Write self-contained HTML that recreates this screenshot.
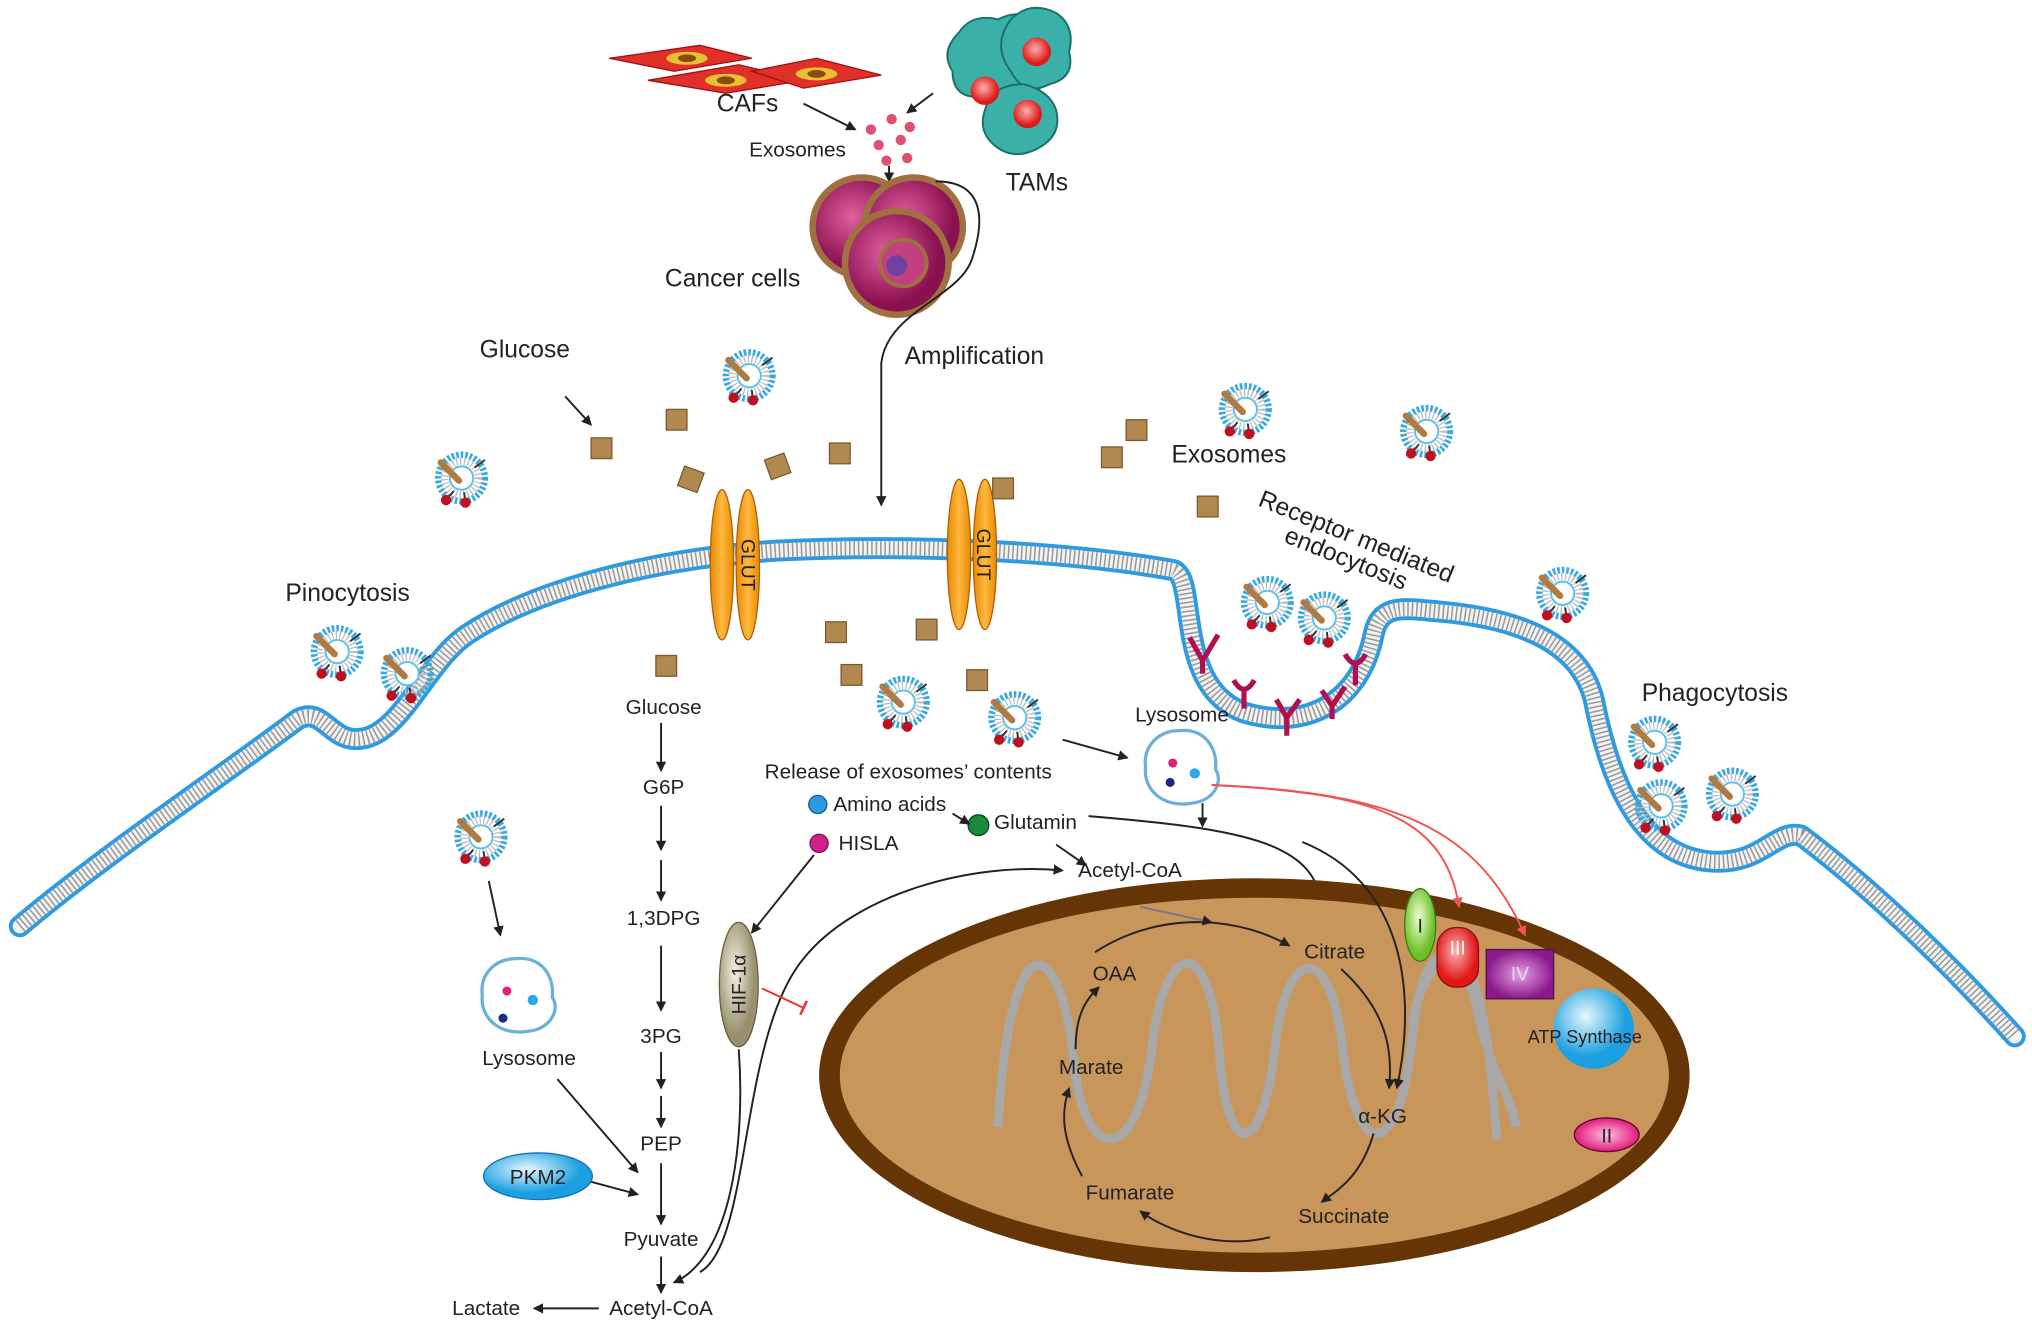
<!DOCTYPE html>
<html><head><meta charset="utf-8"><style>
html,body{margin:0;padding:0;background:#fff;}
svg{display:block;}
text{font-family:"Liberation Sans",sans-serif;fill:#222;}
</style></head><body>
<svg width="2032" height="1333" viewBox="0 0 1568 1029" xmlns="http://www.w3.org/2000/svg">
<defs>
<marker id="ar" markerWidth="8" markerHeight="8" refX="7" refY="4" orient="auto" markerUnits="userSpaceOnUse"><path d="M0,0 L8,4 L0,8z" fill="#222"/></marker>
<marker id="arr" markerWidth="8" markerHeight="8" refX="7" refY="4" orient="auto" markerUnits="userSpaceOnUse"><path d="M0,0 L8,4 L0,8z" fill="#e55"/></marker>
<marker id="tb" markerWidth="4" markerHeight="12" refX="2" refY="6" orient="auto" markerUnits="userSpaceOnUse"><path d="M2,0 L2,12" stroke="#e33" stroke-width="2"/></marker>
<radialGradient id="gb" cx="40%" cy="35%"><stop offset="0" stop-color="#e8f8ff"/><stop offset="1" stop-color="#1aa0e0"/></radialGradient>
<radialGradient id="gr" cx="45%" cy="40%"><stop offset="0" stop-color="#ffb0b0"/><stop offset="1" stop-color="#e01818"/></radialGradient>
<radialGradient id="gg" cx="45%" cy="40%"><stop offset="0" stop-color="#f0ffd0"/><stop offset="1" stop-color="#6cbf2a"/></radialGradient>
<radialGradient id="gp" cx="50%" cy="50%"><stop offset="0" stop-color="#e8a0e8"/><stop offset="1" stop-color="#8a1a8a"/></radialGradient>
<radialGradient id="gpk" cx="50%" cy="50%"><stop offset="0" stop-color="#ffc0e0"/><stop offset="1" stop-color="#e01a7a"/></radialGradient>
<radialGradient id="gc" cx="40%" cy="40%"><stop offset="0" stop-color="#e060a0"/><stop offset="1" stop-color="#8a1050"/></radialGradient>
<radialGradient id="gh" cx="40%" cy="40%"><stop offset="0" stop-color="#f5f0e0"/><stop offset="1" stop-color="#9a9070"/></radialGradient>
<linearGradient id="go" x1="0" x2="1"><stop offset="0" stop-color="#e88a00"/><stop offset=".5" stop-color="#ffb840"/><stop offset="1" stop-color="#e88a00"/></linearGradient>
<g id="ex">
<circle r="18" fill="none" stroke="#3aa8e0" stroke-width="5" stroke-dasharray="2 1.5"/>
<circle r="13" fill="none" stroke="#bbb" stroke-width="6" stroke-dasharray="1 2"/>
<circle r="9" fill="#fff" stroke="#5bc0ee" stroke-width="1.5"/>
<line x1="-16" y1="-12" x2="-2" y2="2" stroke="#b07a40" stroke-width="5" stroke-linecap="round"/>
<line x1="10" y1="-8" x2="18" y2="-14" stroke="#333" stroke-width="1.5"/>
<line x1="-6" y1="10" x2="-12" y2="17" stroke="#333" stroke-width="1.5"/>
<circle cx="-12" cy="17" r="4" fill="#c01020"/>
<line x1="2" y1="11" x2="3" y2="19" stroke="#333" stroke-width="1.5"/>
<circle cx="3" cy="19" r="4" fill="#c01020"/>
</g>
<g id="gl"><rect x="-8" y="-8" width="16" height="16" fill="#b08850" stroke="#7a5a30" stroke-width="1"/></g>
<g id="lys"><path d="M0,-28 C20,-30 30,-14 28,2 C34,10 28,26 10,28 C-12,32 -28,18 -26,0 C-28,-16 -16,-28 0,-28z" fill="#fff" stroke="#6ab0d8" stroke-width="2.5"/></g>
</defs>

<!-- membrane -->
<g fill="none" stroke-linejoin="round" stroke-linecap="round">
<path id="mem" d="M15,715 C80,660 170,600 230,555 C250,545 255,575 280,570 C310,565 330,510 360,490 C420,450 520,430 600,425 C700,420 820,425 905,440 C925,445 905,530 960,550 C1010,565 1050,540 1060,490 C1065,465 1085,470 1110,472 C1180,478 1220,500 1230,540 C1240,590 1260,660 1320,665 C1360,668 1370,640 1390,645 C1450,690 1510,750 1555,800"
 stroke="#2e9be0" stroke-width="17"/>
<path d="M15,715 C80,660 170,600 230,555 C250,545 255,575 280,570 C310,565 330,510 360,490 C420,450 520,430 600,425 C700,420 820,425 905,440 C925,445 905,530 960,550 C1010,565 1050,540 1060,490 C1065,465 1085,470 1110,472 C1180,478 1220,500 1230,540 C1240,590 1260,660 1320,665 C1360,668 1370,640 1390,645 C1450,690 1510,750 1555,800"
 stroke="#f4f4f4" stroke-width="11"/>
<path d="M15,715 C80,660 170,600 230,555 C250,545 255,575 280,570 C310,565 330,510 360,490 C420,450 520,430 600,425 C700,420 820,425 905,440 C925,445 905,530 960,550 C1010,565 1050,540 1060,490 C1065,465 1085,470 1110,472 C1180,478 1220,500 1230,540 C1240,590 1260,660 1320,665 C1360,668 1370,640 1390,645 C1450,690 1510,750 1555,800"
 stroke="#999" stroke-width="11" stroke-dasharray="1.2 2.2" stroke-linecap="butt"/>
</g>

<!-- GLUT -->
<g stroke="#b06000" stroke-width="1">
<ellipse cx="557" cy="436" rx="9" ry="58" fill="url(#go)"/><ellipse cx="577" cy="436" rx="9" ry="58" fill="url(#go)"/>
<ellipse cx="740" cy="428" rx="9" ry="58" fill="url(#go)"/><ellipse cx="760" cy="428" rx="9" ry="58" fill="url(#go)"/>
</g>
<text x="0" y="0" font-size="15" transform="translate(572,436) rotate(90)" text-anchor="middle">GLUT</text>
<text x="0" y="0" font-size="15" transform="translate(754,428) rotate(90)" text-anchor="middle">GLUT</text>

<!-- receptors -->
<g stroke="#b01050" stroke-width="4" fill="none">
<path d="M918,492 l10,18 M940,490 l-12,20 M928,510 l0,10"/>
<path d="M952,525 q8,14 16,0 M960,533 l0,14"/>
<path d="M985,540 l8,14 M1003,540 l-10,14 M993,554 l0,14"/>
<path d="M1020,533 l8,12 M1038,530 l-10,15 M1028,545 l0,10"/>
<path d="M1038,505 q8,14 16,0 M1046,513 l0,16"/>
</g>

<!-- top cells: CAFs -->
<g>
<path d="M470,45 L540,35 L580,45 L520,55z" fill="#e0302a" stroke="#a01010"/>
<ellipse cx="530" cy="45" rx="16" ry="5" fill="#e8c030"/><ellipse cx="530" cy="45" rx="7" ry="3" fill="#8a4a10"/>
<path d="M500,62 L570,50 L620,62 L560,72z" fill="#e0302a" stroke="#a01010"/>
<ellipse cx="560" cy="62" rx="16" ry="5" fill="#e8c030"/><ellipse cx="560" cy="62" rx="7" ry="3" fill="#8a4a10"/>
<path d="M580,55 L630,45 L680,58 L620,68z" fill="#e0302a" stroke="#a01010"/>
<ellipse cx="630" cy="57" rx="16" ry="5" fill="#e8c030"/><ellipse cx="630" cy="57" rx="7" ry="3" fill="#8a4a10"/>
</g>
<text x="553" y="86" font-size="19">CAFs</text>
<!-- TAMs -->
<g fill="#3ab0a8" stroke="#1a706a" stroke-width="1.5">
<path d="M740,25 q10,-15 30,-10 q20,-10 30,5 q15,10 5,30 q5,20 -15,25 q-15,15 -35,0 q-20,0 -20,-20 q-10,-15 5,-30z"/>
<path d="M780,15 q15,-15 35,-5 q15,10 10,30 q5,20 -15,25 q-20,10 -30,-10 q-15,-20 0,-40z"/>
<path d="M760,85 q5,-20 30,-20 q20,5 25,20 q5,20 -15,30 q-20,10 -35,-5 q-10,-10 -5,-25z"/>
</g>
<g fill="url(#gr)"><circle cx="760" cy="70" r="11"/><circle cx="800" cy="40" r="11"/><circle cx="793" cy="88" r="11"/></g>
<text x="776" y="147" font-size="19">TAMs</text>
<line x1="620" y1="80" x2="660" y2="100" stroke="#222" stroke-width="1.5" marker-end="url(#ar)"/>
<line x1="720" y1="72" x2="700" y2="87" stroke="#222" stroke-width="1.5" marker-end="url(#ar)"/>
<g fill="#e05070"><circle cx="672" cy="100" r="4"/><circle cx="688" cy="92" r="4"/><circle cx="702" cy="98" r="4"/><circle cx="678" cy="112" r="4"/><circle cx="695" cy="108" r="4"/><circle cx="684" cy="124" r="4"/><circle cx="700" cy="122" r="4"/></g>
<text x="578" y="121" font-size="16">Exosomes</text>
<line x1="686" y1="128" x2="686" y2="140" stroke="#222" stroke-width="1.5" marker-end="url(#ar)"/>
<!-- cancer cells -->
<g stroke="#a07040" stroke-width="5" fill="url(#gc)">
<circle cx="665" cy="175" r="38"/><circle cx="705" cy="175" r="38"/><circle cx="692" cy="203" r="40"/>
</g>
<circle cx="697" cy="203" r="18" fill="#c04080" stroke="#a07040" stroke-width="3"/>
<circle cx="692" cy="205" r="8" fill="#7040a0"/>
<text x="513" y="221" font-size="19">Cancer cells</text>
<path d="M722,140 C760,140 760,170 750,200 C740,230 685,240 680,280 L680,390" fill="none" stroke="#222" stroke-width="1.5" marker-end="url(#ar)"/>
<text x="698" y="281" font-size="19">Amplification</text>

<!-- outside labels -->
<text x="370" y="276" font-size="19">Glucose</text>
<line x1="436" y1="306" x2="456" y2="328" stroke="#222" stroke-width="1.5" marker-end="url(#ar)"/>
<text x="220" y="464" font-size="19">Pinocytosis</text>
<text x="904" y="357" font-size="19">Exosomes</text>
<text font-size="19" transform="translate(970,390) rotate(22)">Receptor mediated</text>
<text font-size="19" transform="translate(990,418) rotate(22)">endocytosis</text>
<text x="1267" y="541" font-size="19">Phagocytosis</text>

<!-- glucose squares -->
<g>
<use href="#gl" x="464" y="346"/><use href="#gl" x="522" y="324"/><use href="#gl" x="533" y="370" transform="rotate(20 533 370)"/><use href="#gl" x="600" y="360" transform="rotate(-20 600 360)"/><use href="#gl" x="648" y="350"/><use href="#gl" x="774" y="377"/><use href="#gl" x="858" y="353"/><use href="#gl" x="877" y="332"/><use href="#gl" x="932" y="391"/>
<use href="#gl" x="514" y="514"/><use href="#gl" x="645" y="488"/><use href="#gl" x="715" y="486"/><use href="#gl" x="657" y="521"/><use href="#gl" x="754" y="525"/>
</g>

<!-- exosomes -->
<g>
<use href="#ex" x="578" y="290"/><use href="#ex" x="356" y="369"/><use href="#ex" x="961" y="316"/><use href="#ex" x="1101" y="333"/><use href="#ex" x="1206" y="458"/>
<use href="#ex" x="260" y="503"/><use href="#ex" x="314" y="520"/>
<use href="#ex" x="978" y="465"/><use href="#ex" x="1022" y="477"/>
<use href="#ex" x="697" y="542"/><use href="#ex" x="783" y="554"/>
<use href="#ex" x="1277" y="573"/><use href="#ex" x="1282" y="622"/><use href="#ex" x="1337" y="613"/>
<use href="#ex" x="371" y="646"/>
</g>

<!-- glycolysis -->
<g font-size="16" text-anchor="middle">
<text x="512" y="551">Glucose</text><text x="512" y="613">G6P</text><text x="512" y="714">1,3DPG</text><text x="510" y="805">3PG</text><text x="510" y="888">PEP</text><text x="510" y="962">Pyuvate</text><text x="510" y="1015">Acetyl-CoA</text><text x="375" y="1015">Lactate</text>
</g>
<g stroke="#222" stroke-width="1.5" marker-end="url(#ar)">
<line x1="510" y1="558" x2="510" y2="595"/><line x1="510" y1="622" x2="510" y2="656"/><line x1="510" y1="664" x2="510" y2="695"/>
<line x1="510" y1="730" x2="510" y2="780"/><line x1="510" y1="812" x2="510" y2="840"/><line x1="510" y1="846" x2="510" y2="870"/>
<line x1="510" y1="898" x2="510" y2="945"/><line x1="510" y1="970" x2="510" y2="998"/>
<line x1="462" y1="1010" x2="412" y2="1010"/>
<line x1="377" y1="680" x2="386" y2="722"/>
<line x1="430" y1="833" x2="492" y2="905"/>
<line x1="455" y1="912" x2="492" y2="922"/>
</g>
<use href="#lys" x="398" y="768"/>
<circle cx="391" cy="765" r="3.5" fill="#e0207a"/><circle cx="411" cy="772" r="4" fill="#2aa8e8"/><circle cx="388" cy="786" r="3.5" fill="#1a2a80"/>
<text x="372" y="822" font-size="16">Lysosome</text>
<ellipse cx="415" cy="908" rx="42" ry="18" fill="url(#gb)" stroke="#1a70b0"/>
<text x="415" y="914" font-size="16" text-anchor="middle">PKM2</text>

<!-- release contents -->
<text x="590" y="601" font-size="16">Release of exosomes’ contents</text>
<circle cx="631" cy="621" r="7" fill="#2a9be0" stroke="#1a5a90"/>
<text x="643" y="626" font-size="16">Amino acids</text>
<circle cx="632" cy="651" r="7" fill="#d0208a" stroke="#801050"/>
<text x="647" y="656" font-size="16">HISLA</text>
<circle cx="755" cy="637" r="8" fill="#1a8a3a" stroke="#0a4a1a"/>
<text x="767" y="640" font-size="16">Glutamin</text>
<text x="832" y="677" font-size="16">Acetyl-CoA</text>
<g stroke="#222" stroke-width="1.5" fill="none" marker-end="url(#ar)">
<line x1="735" y1="628" x2="748" y2="636"/>
<line x1="815" y1="652" x2="838" y2="668"/>
<line x1="628" y1="660" x2="580" y2="720"/>
<line x1="820" y1="571" x2="870" y2="585"/>
<line x1="928" y1="620" x2="928" y2="638"/>
<path d="M840,630 C960,640 1020,650 1020,705"/>
<path d="M540,982 C580,960 570,800 620,740 C660,690 750,665 820,672"/>
<path d="M570,810 C575,880 565,970 520,990"/>
</g>
<!-- lysosome right -->
<use href="#lys" x="910" y="592"/>
<circle cx="905" cy="589" r="3.5" fill="#e0207a"/><circle cx="922" cy="597" r="4" fill="#2aa8e8"/><circle cx="903" cy="604" r="3.5" fill="#1a2a80"/>
<text x="876" y="557" font-size="16">Lysosome</text>
<!-- HIF -->
<ellipse cx="570" cy="760" rx="15" ry="48" fill="url(#gh)" stroke="#6a6040"/>
<text font-size="15" transform="translate(575,760) rotate(-90)" text-anchor="middle">HIF-1α</text>
<line x1="588" y1="763" x2="620" y2="778" stroke="#e33" stroke-width="1.5" marker-end="url(#tb)"/>

<!-- mitochondrion -->
<ellipse cx="968" cy="830" rx="336" ry="152" fill="#653505"/>
<ellipse cx="968" cy="830" rx="320" ry="137" fill="#c8955a"/>
<path d="M770,870 C780,700 820,720 830,830 C840,900 880,900 890,800 C900,730 930,720 940,800 C945,900 975,900 985,800 C995,730 1025,730 1035,800 C1045,900 1080,900 1090,800 C1100,710 1130,730 1140,780 C1150,830 1165,840 1170,870" fill="none" stroke="#a8a8a8" stroke-width="7"/>
<path d="M1090,790 C1095,760 1110,735 1125,740 C1140,745 1150,800 1155,880" fill="none" stroke="#a8a8a8" stroke-width="7"/>
<g font-size="16" text-anchor="middle">
<text x="860" y="757">OAA</text><text x="1030" y="740">Citrate</text><text x="842" y="829">Marate</text><text x="1067" y="867">α-KG</text><text x="872" y="926">Fumarate</text><text x="1037" y="944">Succinate</text>
</g>
<g stroke="#222" stroke-width="1.5" fill="none" marker-end="url(#ar)">
<path d="M845,735 C900,700 960,710 995,730"/>
<path d="M1035,748 C1070,780 1075,810 1072,840"/>
<path d="M1060,875 C1050,910 1030,920 1020,928"/>
<path d="M980,955 C940,965 900,950 880,935"/>
<path d="M835,908 C820,880 818,860 825,840"/>
<path d="M830,810 C830,780 840,770 848,762"/>
<path d="M1005,650 C1080,680 1095,760 1078,840"/>
</g>
<line x1="880" y1="700" x2="935" y2="712" stroke="#778" stroke-width="1.5" marker-end="url(#ar)"/>
<!-- red lines -->
<g stroke="#e55" stroke-width="1.5" fill="none" marker-end="url(#arr)">
<path d="M935,606 C1060,612 1115,630 1126,700"/>
<path d="M935,606 C1080,612 1140,640 1177,722"/>
</g>
<!-- complexes -->
<ellipse cx="1096" cy="714" rx="12" ry="28" fill="url(#gg)" stroke="#3a7a10"/>
<text x="1096" y="720" font-size="15" text-anchor="middle" font-family="Liberation Serif">I</text>
<rect x="1109" y="716" width="32" height="46" rx="15" fill="url(#gr)" stroke="#801010"/>
<text x="1125" y="737" font-size="15" text-anchor="middle" font-family="Liberation Serif" style="fill:#fff">III</text>
<rect x="1147" y="733" width="52" height="38" fill="url(#gp)" stroke="#501050"/>
<text x="1173" y="757" font-size="15" text-anchor="middle" font-family="Liberation Serif" style="fill:#ddd">IV</text>
<circle cx="1230" cy="794" r="31" fill="url(#gb)"/>
<text x="1223" y="805" font-size="14" text-anchor="middle">ATP Synthase</text>
<ellipse cx="1240" cy="876" rx="25" ry="13" fill="url(#gpk)" stroke="#600030"/>
<text x="1240" y="882" font-size="15" text-anchor="middle" font-family="Liberation Serif">II</text>
</svg>
</body></html>
